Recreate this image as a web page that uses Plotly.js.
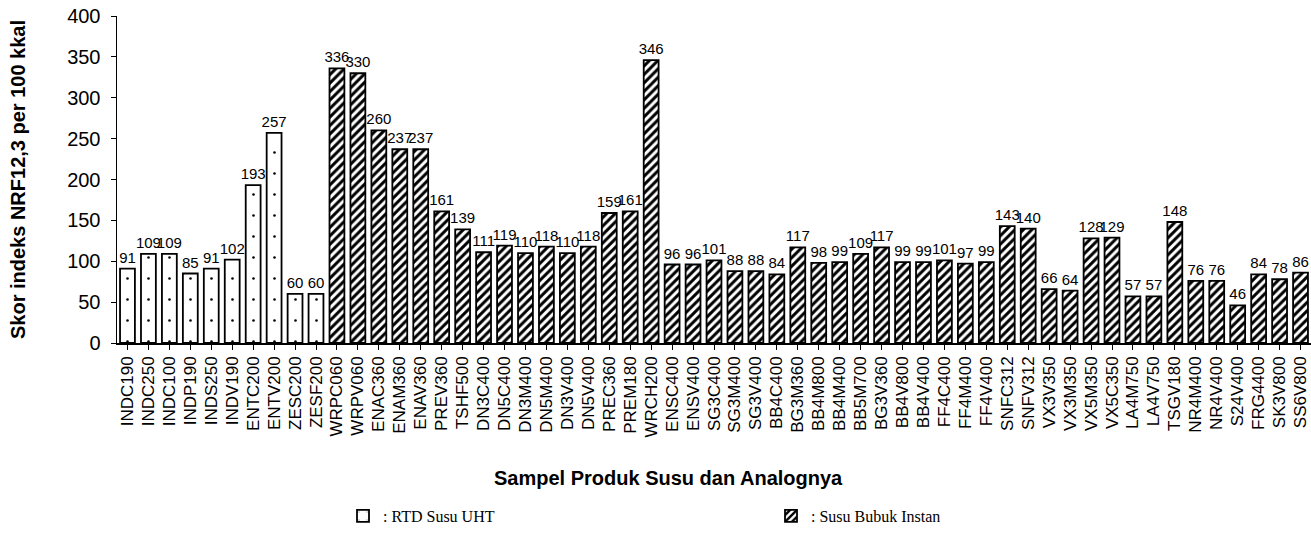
<!DOCTYPE html>
<html>
<head>
<meta charset="utf-8">
<script src="https://cdn.plot.ly/plotly-3.0.1.min.js"></script>
<style>
  html, body { margin: 0; padding: 0; background: #fff; }
  #chart { width: 1311px; height: 544px; }
</style>
</head>
<body>
<div id="chart"></div>
<script>
const rtdCategories = ["INDC190","INDC250","INDC100","INDP190","INDS250","INDV190","ENTC200","ENTV200","ZESC200","ZESF200"];
const rtdValues = [91,109,109,85,91,102,193,257,60,60];

const powderCategories = ["WRPC060","WRPV060","ENAC360","ENAM360","ENAV360","PREV360","TSHF500","DN3C400","DN5C400","DN3M400","DN5M400","DN3V400","DN5V400","PREC360","PREM180","WRCH200","ENSC400","ENSV400","SG3C400","SG3M400","SG3V400","BB4C400","BG3M360","BB4M800","BB4M400","BB5M700","BG3V360","BB4V800","BB4V400","FF4C400","FF4M400","FF4V400","SNFC312","SNFV312","VX3V350","VX3M350","VX5M350","VX5C350","LA4M750","LA4V750","TSGV180","NR4M400","NR4V400","S24V400","FRG4400","SK3V800","SS6V800"];
const powderValues = [336,330,260,237,237,161,139,111,119,110,118,110,118,159,161,346,96,96,101,88,88,84,117,98,99,109,117,99,99,101,97,99,143,140,66,64,128,129,57,57,148,76,76,46,84,78,86];

const seriesNames = [": RTD Susu UHT", ": Susu Bubuk Instan"];
const yTicks = [0,50,100,150,200,250,300,350,400];
const xTitle = "Sampel Produk Susu dan Analognya";
const yTitle = "Skor indeks NRF12,3 per 100 kkal";
const allCategories = rtdCategories.concat(powderCategories);

const labelFont = {family: "Liberation Sans, Arial, sans-serif", size: 15, color: "#000"};

const traces = [
  {
    type: "bar",
    name: seriesNames[0],
    x: rtdCategories,
    y: rtdValues,
    text: rtdValues.map(String),
    textposition: "outside",
    textangle: 0,
    constraintext: "none",
    cliponaxis: false,
    textfont: labelFont,
    marker: {
      color: "#fff",
      line: {color: "#000", width: 1.8},
      pattern: {shape: ".", fgcolor: "#000", bgcolor: "#fff", size: 21, solidity: 0.012}
    },
    hoverinfo: "x+y"
  },
  {
    type: "bar",
    name: seriesNames[1],
    x: powderCategories,
    y: powderValues,
    text: powderValues.map(String),
    textposition: "outside",
    textangle: 0,
    constraintext: "none",
    cliponaxis: false,
    textfont: labelFont,
    marker: {
      color: "#fff",
      line: {color: "#000", width: 1.8},
      pattern: {shape: "/", fgcolor: "#000", bgcolor: "#fff", size: 6, solidity: 0.5}
    },
    hoverinfo: "x+y"
  }
];

const layout = {
  width: 1311,
  height: 544,
  margin: {l: 117, r: 0, t: 16, b: 201},
  paper_bgcolor: "#fff",
  plot_bgcolor: "#fff",
  barmode: "overlay",
  bargap: 0.29,
  font: {family: "Liberation Sans, Arial, sans-serif", color: "#000"},
  xaxis: {
    type: "category",
    categoryorder: "array",
    categoryarray: allCategories,
    range: [-0.5, allCategories.length - 0.5],
    tickangle: -90,
    tickfont: {size: 17, color: "#000"},
    ticks: "outside",
    ticklen: 5,
    tickcolor: "#000",
    showline: true,
    linecolor: "#000",
    linewidth: 1.5,
    showgrid: false,
    zeroline: false
  },
  yaxis: {
    range: [0, 400],
    tickvals: yTicks,
    tickfont: {size: 20, color: "#000"},
    ticks: "outside",
    ticklen: 5,
    tickcolor: "#000",
    ticklabelstandoff: 6,
    showline: true,
    linecolor: "#000",
    linewidth: 1.5,
    showgrid: false,
    zeroline: false,
    title: {
      text: yTitle,
      font: {size: 20, weight: "bold", color: "#000"},
      standoff: 36
    }
  },
  annotations: [
    {
      text: xTitle,
      xref: "paper",
      yref: "paper",
      x: (668 - 117) / 1194,
      y: (343 - 478) / 327,
      xanchor: "center",
      yanchor: "middle",
      showarrow: false,
      font: {size: 20, weight: "bold", color: "#000"}
    }
  ],
  showlegend: true,
  legend: {
    orientation: "h",
    xref: "container",
    yref: "container",
    x: 343 / 1311,
    y: 28 / 544,
    xanchor: "left",
    yanchor: "middle",
    entrywidth: 383,
    entrywidthmode: "pixels",
    font: {family: "Liberation Serif, Times New Roman, serif", size: 16, color: "#000"},
    bgcolor: "rgba(0,0,0,0)"
  }
};

Plotly.newPlot("chart", traces, layout, {displayModeBar: false, staticPlot: true});
</script>
</body>
</html>
